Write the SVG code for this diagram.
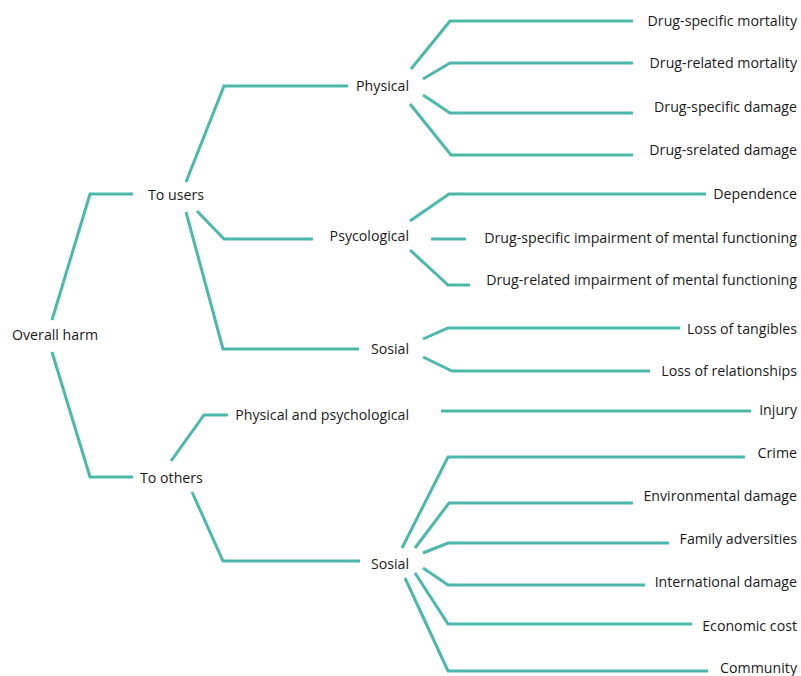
<svg xmlns="http://www.w3.org/2000/svg" width="801" height="676" viewBox="0 0 801 676">
<style>
.c{fill:none;stroke:#4bb8ab;stroke-width:3;stroke-linejoin:miter}
text{font-family:"Open Sans","Liberation Sans",sans-serif;font-size:14.2px;fill:#1a1a1a}
.e{text-anchor:end}
</style>
<rect width="801" height="676" fill="#fff"/>
<g id="connectors">
<polyline class="c" points="52,320 90,194 133,194"/>
<polyline class="c" points="52,352 90,477 133,477"/>
<polyline class="c" points="186,182 224,86 348,86"/>
<polyline class="c" points="197,211 224,239 313,239"/>
<polyline class="c" points="186,212 223,349 359,349"/>
<polyline class="c" points="411,69 450,21 633,21"/>
<polyline class="c" points="423,79 450,63 633,63"/>
<polyline class="c" points="423,95 450,113 633,113"/>
<polyline class="c" points="410,104 451,155 633,155"/>
<polyline class="c" points="410,221 449,194 706,194"/>
<polyline class="c" points="431,239 466,239"/>
<polyline class="c" points="410,250 448,285 470,285"/>
<polyline class="c" points="423,339 448,328 680,328"/>
<polyline class="c" points="423,357 452,371 650,371"/>
<polyline class="c" points="171,461 204,415 228,415"/>
<polyline class="c" points="192,492 223,561 360,561"/>
<polyline class="c" points="441,411 751,411"/>
<polyline class="c" points="402,548 448,457 745,457"/>
<polyline class="c" points="415,548 449,503 633,503"/>
<polyline class="c" points="423,553 448,543 669,543"/>
<polyline class="c" points="423,568 448,585 645,585"/>
<polyline class="c" points="415,573 448,624 692,624"/>
<polyline class="c" points="405,578 448,671 708,671"/>
</g>
<g id="n-overall"><text x="12" y="340">Overall harm</text></g>
<g id="n-users"><text x="148" y="200">To users</text></g>
<g id="n-others"><text x="140" y="483">To others</text></g>
<g id="n-physical"><text class="e" x="409" y="91">Physical</text></g>
<g id="n-psyc"><text class="e" x="409" y="241">Psycological</text></g>
<g id="n-sosial1"><text class="e" x="409" y="354">Sosial</text></g>
<g id="n-physpsy"><text class="e" x="409" y="420">Physical and psychological</text></g>
<g id="n-sosial2"><text class="e" x="409" y="569">Sosial</text></g>
<g id="l1"><text class="e" x="797" y="26">Drug-specific mortality</text></g>
<g id="l2"><text class="e" x="797" y="68">Drug-related mortality</text></g>
<g id="l3"><text class="e" x="797" y="112">Drug-specific damage</text></g>
<g id="l4"><text class="e" x="797" y="155">Drug-srelated damage</text></g>
<g id="l5"><text class="e" x="797" y="199">Dependence</text></g>
<g id="l6"><text class="e" x="797" y="243">Drug-specific impairment of mental functioning</text></g>
<g id="l7"><text class="e" x="797" y="285">Drug-related impairment of mental functioning</text></g>
<g id="l8"><text class="e" x="797" y="334">Loss of tangibles</text></g>
<g id="l9"><text class="e" x="797" y="376">Loss of relationships</text></g>
<g id="l10"><text class="e" x="797" y="415">Injury</text></g>
<g id="l11"><text class="e" x="797" y="458">Crime</text></g>
<g id="l12"><text class="e" x="797" y="501">Environmental damage</text></g>
<g id="l13"><text class="e" x="797" y="544">Family adversities</text></g>
<g id="l14"><text class="e" x="797" y="587">International damage</text></g>
<g id="l15"><text class="e" x="797" y="631">Economic cost</text></g>
<g id="l16"><text class="e" x="797" y="673">Community</text></g>
</svg>
